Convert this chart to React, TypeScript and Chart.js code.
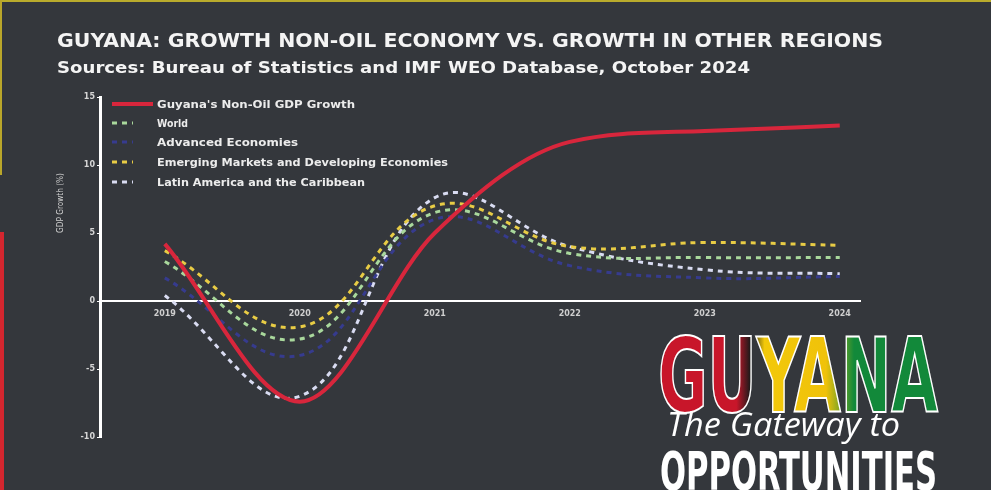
import React, { useEffect, useRef } from "react";
import { Chart, registerables } from "chart.js";

Chart.register(...registerables);

const years = [2019, 2020, 2021, 2022, 2023, 2024];
const guyanaNonOil = [4.2, -7.4, 5.0, 11.7, 12.5, 12.9];
const world = [2.9, -2.8, 6.5, 3.5, 3.2, 3.2];
const advanced = [1.7, -4.0, 6.0, 2.6, 1.7, 1.8];
const emerging = [3.7, -1.9, 7.0, 4.0, 4.3, 4.1];
const latinAmerica = [0.4, -7.0, 7.6, 4.0, 2.3, 2.0];

const seriesLabels = [
  "Guyana's Non-Oil GDP Growth",
  "World",
  "Advanced Economies",
  "Emerging Markets and Developing Economies",
  "Latin America and the Caribbean",
];
const seriesColors = ["#d8263c", "#a9d89c", "#363b8e", "#e8cc45", "#d9dcf2"];
const yTicks = [-10, -5, 0, 5, 10, 15];

const BG = "#34373c";

export default function App() {
  const canvasRef = useRef<HTMLCanvasElement | null>(null);

  useEffect(() => {
    document.body.style.margin = "0";
    const canvas = canvasRef.current;
    if (!canvas) return;
    const allSeries = [guyanaNonOil, world, advanced, emerging, latinAmerica];
    const datasets = allSeries.map((vals, i) => ({
      label: seriesLabels[i],
      data: years.map((yr, k) => ({ x: yr, y: vals[k] })),
      borderColor: seriesColors[i],
      backgroundColor: seriesColors[i],
      borderWidth: i === 0 ? 4 : 3,
      borderDash: i === 0 ? [] : [5, 5],
      pointRadius: 0,
      tension: 0.4,
      cubicInterpolationMode: i === 0 ? "monotone" : "default",
      fill: false,
    }));
    const chart = new Chart(canvas, {
      type: "line",
      data: { datasets: datasets as any },
      options: {
        animation: false,
        responsive: false,
        layout: { padding: { left: 70, top: 97, right: 146, bottom: 53 } },
        plugins: { legend: { display: false }, title: { display: false }, tooltip: { enabled: false } },
        scales: {
          x: {
            type: "linear",
            position: { y: 0 } as any,
            min: 2018.52,
            max: 2024.15,
            afterBuildTicks: (s: any) => {
              s.ticks = years.map((v) => ({ value: v }));
            },
            grid: { display: false, drawTicks: false },
            border: { display: true, color: "#ffffff", width: 2 },
            ticks: {
              color: "#cfcfcf",
              font: { family: "DejaVu Sans", size: 8, weight: "bold" },
              padding: 8,
              maxRotation: 0,
              callback: (v: any) => String(v),
            },
          },
          y: {
            min: -10,
            max: 15,
            afterBuildTicks: (s: any) => {
              s.ticks = yTicks.map((v) => ({ value: v }));
            },
            afterFit: (s: any) => {
              s.width = 30;
            },
            grid: { display: true, drawOnChartArea: false, drawTicks: true, tickLength: 3, color: "#ffffff" },
            border: { display: true, color: "#ffffff", width: 3 },
            ticks: {
              color: "#d6d6d6",
              font: { family: "DejaVu Sans", size: 8, weight: "bold" },
              padding: 2,
            },
          },
        },
      },
    });
    return () => chart.destroy();
  }, []);

  const legendRowsY = [104, 123, 142, 162, 182];
  const legendTextLen = [198, 31, 141, 291, 208];

  return (
    <div style={{ position: "fixed", left: 0, top: 0, width: 1006, height: 490, background: "#ffffff", overflow: "hidden" }}>
      <div style={{ position: "absolute", left: 0, top: 0, width: 991, height: 490, background: BG }} />
      <div style={{ position: "absolute", left: 0, top: 0, width: 991, height: 2, background: "#b9ab2c" }} />
      <div style={{ position: "absolute", left: 0, top: 0, width: 2, height: 175, background: "#b9a62a" }} />
      <div style={{ position: "absolute", left: 0, top: 232, width: 4, height: 258, background: "#d3262f" }} />
      <canvas ref={canvasRef} width={1006} height={490} style={{ position: "absolute", left: 0, top: 0, width: 1006, height: 490 }} />
      <svg width={1006} height={490} style={{ position: "absolute", left: 0, top: 0, pointerEvents: "none" }}>
        <defs>
          <linearGradient id="flag" x1="658" y1="0" x2="938" y2="0" gradientUnits="userSpaceOnUse">
            <stop offset="0" stopColor="#c8162a" />
            <stop offset="0.28" stopColor="#c8162a" />
            <stop offset="0.33" stopColor="#1a1a1a" />
            <stop offset="0.38" stopColor="#f2c80a" />
            <stop offset="0.6" stopColor="#f0c20a" />
            <stop offset="0.7" stopColor="#12893a" />
            <stop offset="1" stopColor="#12893a" />
          </linearGradient>
        </defs>
        <text x={57} y={47} fill="#f4f4f4" fontFamily="DejaVu Sans" fontWeight="bold" fontSize={20} textLength={826} lengthAdjust="spacingAndGlyphs">
          GUYANA: GROWTH NON-OIL ECONOMY VS. GROWTH IN OTHER REGIONS
        </text>
        <text x={57} y={73} fill="#f4f4f4" fontFamily="DejaVu Sans" fontWeight="bold" fontSize={15} textLength={693} lengthAdjust="spacingAndGlyphs">
          Sources: Bureau of Statistics and IMF WEO Database, October 2024
        </text>
        <text
          x={0}
          y={0}
          transform="translate(63,203) rotate(-90)"
          textAnchor="middle"
          fill="#cfcfcf"
          fontFamily="DejaVu Sans"
          fontSize={9}
          textLength={60}
          lengthAdjust="spacingAndGlyphs"
        >
          GDP Growth (%)
        </text>
        {seriesLabels.map((lab, i) => (
          <g key={lab}>
            {i === 0 ? (
              <line x1={112} y1={legendRowsY[i]} x2={153} y2={legendRowsY[i]} stroke={seriesColors[i]} strokeWidth={4} />
            ) : (
              <line x1={112} y1={legendRowsY[i]} x2={133} y2={legendRowsY[i]} stroke={seriesColors[i]} strokeWidth={3} strokeDasharray="5 5" />
            )}
            <text
              x={157}
              y={legendRowsY[i] + 4}
              fill="#ececec"
              fontFamily="DejaVu Sans"
              fontWeight="bold"
              fontSize={10}
              textLength={legendTextLen[i]}
              lengthAdjust="spacingAndGlyphs"
            >
              {lab}
            </text>
          </g>
        ))}
        <text
          x={658}
          y={412}
          fill="url(#flag)"
          stroke="#ffffff"
          strokeWidth={2}
          fontFamily="Liberation Sans Narrow, DejaVu Sans Condensed, sans-serif"
          fontWeight="bold"
          fontSize={103}
          textLength={280}
          lengthAdjust="spacingAndGlyphs"
        >
          GUYANA
        </text>
        <text
          x={667}
          y={436}
          fill="#ffffff"
          fontFamily="Open Sans, DejaVu Sans, sans-serif"
          fontStyle="italic"
          fontWeight={500}
          fontSize={33}
          textLength={233}
          lengthAdjust="spacingAndGlyphs"
        >
          The Gateway to
        </text>
        <text
          x={660}
          y={490}
          fill="#ffffff"
          fontFamily="Liberation Sans Narrow, DejaVu Sans Condensed, sans-serif"
          fontWeight="bold"
          fontSize={53}
          textLength={277}
          lengthAdjust="spacingAndGlyphs"
        >
          OPPORTUNITIES
        </text>
      </svg>
    </div>
  );
}
